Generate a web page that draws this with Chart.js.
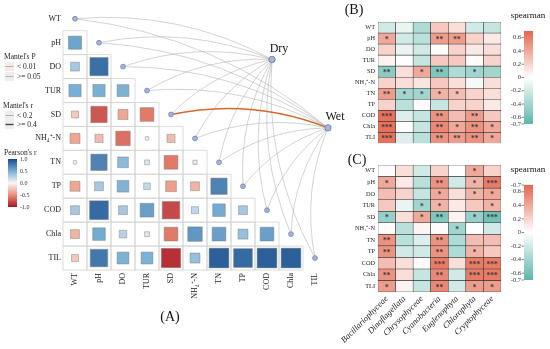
<!DOCTYPE html>
<html>
<head>
<meta charset="utf-8">
<script src="https://cdn.jsdelivr.net/npm/chart.js@4.4.1/dist/chart.umd.min.js"></script>
<style>
  body { margin: 0; background: #fff; }
  #wrap { position: relative; width: 550px; height: 349px; overflow: hidden; }
  canvas { position: absolute; }
  #chartA { left: 0; top: 0; width: 345px; height: 349px; }
  #chartB { left: 330px; top: 0; width: 220px; height: 150px; }
  #chartC { left: 330px; top: 150px; width: 220px; height: 199px; }
</style>
</head>
<body>
<div id="wrap">
  <canvas id="chartA" width="345" height="349"></canvas>
  <canvas id="chartB" width="220" height="150"></canvas>
  <canvas id="chartC" width="220" height="199"></canvas>
</div>
<script>
// ---- data ----
var vars = ['WT', 'pH', 'DO', 'TUR', 'SD', 'NH₄⁺-N', 'TN', 'TP', 'COD', 'Chla', 'TIL'];
// lower triangle of Pearson's r, row i has columns 0..i-1
var pearsonR = [
    [],
    [0.55],
    [0.32, 0.82],
    [0.5, 0.5, 0.48],
    [-0.22, -0.72, -0.38, -0.58],
    [-0.38, -0.28, -0.62, 0.03, -0.28],
    [0.03, 0.72, 0.42, 0.1, -0.58, 0.07],
    [-0.38, 0.32, 0.47, 0.2, -0.42, -0.32, 0.72],
    [0.32, 0.85, 0.32, 0.58, -0.78, 0.22, 0.52, 0.32],
    [-0.32, 0.52, 0.25, 0.1, -0.58, 0.62, 0.58, 0.38, 0.58],
    [-0.22, 0.78, 0.48, 0.48, -0.88, 0.38, 0.9, 0.85, 0.9, 0.9]
];
var envNames = ['Dry', 'Wet'];
var envX = [8.21, 10.54];
var envY = [1.70, 4.56];
var mantelPDry = [0.42, 0.35, 0.61, 0.28, 0.19, 0.55, 0.47, 0.73, 0.33, 0.26, 0.39];
var mantelRDry = [0.05, 0.08, 0.02, 0.10, 0.12, 0.04, 0.06, 0.01, 0.09, 0.11, 0.07];
var mantelPWet = [0.51, 0.22, 0.37, 0.64, 0.004, 0.29, 0.18, 0.45, 0.31, 0.58, 0.24];
var mantelRWet = [0.03, 0.11, 0.07, 0.02, 0.46, 0.08, 0.13, 0.05, 0.09, 0.01, 0.12];

var taxa = ['Bacillariophyceae', 'Dinoflagellata', 'Chrysophyceae', 'Cyanobacteria', 'Euglenophyta', 'Chlorophyta', 'Cryptophyceae'];
var rowsBC = ['WT', 'pH', 'DO', 'TUR', 'SD', 'NH₄⁺-N', 'TN', 'TP', 'COD', 'Chla', 'TLI'];
var bRho = [
    [-0.2, -0.1, -0.35, 0.25, 0.15, -0.2, -0.25],
    [0.4, -0.2, -0.3, 0.45, 0.45, 0.2, 0.1],
    [0.2, -0.1, -0.2, 0.02, 0.2, 0.1, 0.15],
    [0.05, 0, -0.25, 0.25, 0.25, 0.02, 0.2],
    [-0.5, 0.15, 0.4, -0.55, -0.35, -0.4, -0.4],
    [0.2, 0.15, 0.12, 0.25, 0.15, -0.05, 0.15],
    [0.45, -0.4, -0.4, 0.35, 0.3, 0.2, 0.15],
    [0.2, -0.3, 0.02, -0.25, 0.2, 0.2, 0.1],
    [0.65, -0.15, -0.25, 0.5, 0.3, 0.45, 0.25],
    [0.65, 0, -0.25, 0.55, 0.4, 0.5, 0.4],
    [0.65, -0.15, -0.3, 0.5, 0.45, 0.5, 0.4]
];
var bStars = [
    [0, 0, 0, 0, 0, 0, 0],
    [1, 0, 0, 2, 2, 0, 0],
    [0, 0, 0, 0, 0, 0, 0],
    [0, 0, 0, 0, 0, 0, 0],
    [2, 0, 1, 2, 0, 1, 0],
    [0, 0, 0, 0, 0, 0, 0],
    [2, 1, 1, 1, 1, 0, 0],
    [0, 0, 0, 0, 0, 0, 0],
    [3, 0, 0, 2, 0, 2, 0],
    [3, 0, 0, 2, 1, 2, 1],
    [3, 0, 0, 2, 2, 2, 1]
];
var cRho = [
    [0.02, 0.15, -0.2, 0.2, 0, 0.4, 0.2],
    [0.4, 0.1, -0.3, 0.5, -0.2, 0.35, 0.6],
    [0.3, 0.2, -0.25, 0.4, 0.15, 0.35, 0.4],
    [0.25, -0.1, -0.4, 0.35, 0.1, 0.25, 0.35],
    [-0.45, 0.15, 0.4, -0.55, 0.05, -0.45, -0.6],
    [0.02, -0.3, 0.05, 0.02, -0.4, 0, -0.2],
    [0.5, -0.3, -0.15, 0.5, -0.35, 0.3, 0.3],
    [0.5, -0.2, -0.2, 0.5, -0.35, 0.35, 0.25],
    [0.3, 0.15, 0.02, 0.6, 0.15, 0.6, 0.6],
    [0.5, 0.15, -0.25, 0.55, -0.2, 0.6, 0.6],
    [0.45, 0.05, -0.25, 0.55, -0.2, 0.45, 0.45]
];
var cStars = [
    [0, 0, 0, 0, 0, 1, 0],
    [1, 0, 0, 2, 0, 1, 3],
    [0, 0, 0, 1, 0, 1, 1],
    [0, 0, 1, 1, 0, 0, 1],
    [1, 0, 1, 2, 0, 1, 3],
    [0, 0, 0, 0, 1, 0, 0],
    [2, 0, 0, 2, 0, 0, 0],
    [2, 0, 0, 2, 0, 1, 0],
    [0, 0, 0, 3, 0, 3, 3],
    [2, 0, 0, 2, 0, 3, 3],
    [1, 0, 0, 2, 0, 1, 1]
];
var pearsonTicks = [1.0, 0.5, 0.0, -0.5, -1.0];
var bBarTicks = [0.6, 0.4, 0.2, 0, -0.2, -0.4, -0.6, -0.7];
var bBarLabels = ['0.6', '0.4', '0.2', '0', '-0.2', '-0.4', '-0.6', '-0.7'];
var cBarTicks = [0.7, 0.6, 0.4, 0.2, 0, -0.2, -0.4, -0.6, -0.7];
var cBarLabels = ['-0.7', '0.6', '0.4', '0.2', '0', '-0.2', '-0.4', '-0.6', '-0.7'];

var SERIF = '"Liberation Serif", "Times New Roman", serif';

// ---- colours ----
var pearsonStops = [
    [-1, [165, 20, 35]], [-0.5, [236, 142, 118]], [0, [247, 247, 247]],
    [0.5, [120, 175, 212]], [1, [24, 76, 140]]
];
function pearsonColor(v) {
    for (var k = 1; k < pearsonStops.length; k++) {
        if (v <= pearsonStops[k][0] || k === pearsonStops.length - 1) {
            var a = pearsonStops[k - 1], b = pearsonStops[k];
            var t = (v - a[0]) / (b[0] - a[0]);
            return 'rgb(' + a[1].map(function (c, n) { return Math.round(c + (b[1][n] - c) * t); }).join(',') + ')';
        }
    }
}
function spearmanColor(v) {
    var t = Math.min(Math.abs(v) / 0.7, 1);
    var end = v >= 0 ? [229, 102, 78] : [92, 182, 170];
    return 'rgb(' + end.map(function (c) { return Math.round(255 + (c - 255) * t); }).join(',') + ')';
}

// ---- chart A ----
var cells = [];
pearsonR.forEach(function (row, i) {
    row.forEach(function (r, j) { cells.push({ x: j, y: i, v: r }); });
});
var nodes = vars.map(function (v, i) { return { x: i, y: i }; });
var envNodes = envNames.map(function (n, e) { return { x: envX[e], y: envY[e] }; });

function cellWidth(chart) {
    var s = chart.scales.x;
    return Math.abs(s.getPixelForValue(1) - s.getPixelForValue(0));
}

var linkPlugin = {
    id: 'links',
    beforeDatasetsDraw: function (chart) {
        var xs = chart.scales.x, ys = chart.scales.y, ctx = chart.ctx;
        var ps = [mantelPDry, mantelPWet], rs = [mantelRDry, mantelRWet];
        var curv = 0.15;
        ctx.save();
        envNames.forEach(function (env, e) {
            var ex = xs.getPixelForValue(envX[e]), ey = ys.getPixelForValue(envY[e]);
            vars.forEach(function (v, i) {
                var vx = xs.getPixelForValue(i), vy = ys.getPixelForValue(i);
                var dx = ex - vx, dy = ey - vy;
                var cx = (vx + ex) / 2 + curv * dy, cy = (vy + ey) / 2 - curv * dx;
                ctx.beginPath();
                ctx.moveTo(vx, vy);
                ctx.quadraticCurveTo(cx, cy, ex, ey);
                ctx.strokeStyle = ps[e][i] < 0.01 ? '#d46a2e' : 'rgba(180,180,180,0.85)';
                ctx.lineWidth = rs[e][i] >= 0.4 ? 1.6 : 0.7;
                ctx.stroke();
            });
        });
        ctx.restore();
    },
    afterDraw: function (chart) {
        var ctx = chart.ctx, xs = chart.scales.x, ys = chart.scales.y;
        ctx.save();
        ctx.fillStyle = '#111';
        ctx.textAlign = 'center';
        ctx.textBaseline = 'middle';
        ctx.font = '12px ' + SERIF;
        envNames.forEach(function (env, e) {
            ctx.fillText(env, xs.getPixelForValue(envX[e]) + 7, ys.getPixelForValue(envY[e]) - 11);
        });
        ctx.font = '14px ' + SERIF;
        ctx.fillText('(A)', 170, 317);

        // legends
        ctx.textAlign = 'left';
        ctx.font = '7.5px ' + SERIF;
        ctx.fillStyle = '#222';
        ctx.fillText("Mantel's P", 4, 57);
        ctx.fillText("Mantel's r", 3, 106);
        ctx.fillText("Pearson's r", 4, 153);
        var keys = [
            [62, 'rgba(222,120,90,0.8)', 0.8, '< 0.01'],
            [72, 'rgba(160,160,160,0.9)', 0.8, '>= 0.05'],
            [111, 'rgba(120,120,120,0.9)', 0.6, '< 0.2'],
            [120, 'rgba(70,70,70,1)', 1.4, '>= 0.4']
        ];
        keys.forEach(function (k) {
            ctx.fillStyle = '#eeeeee';
            ctx.fillRect(5, k[0], 9, 9);
            ctx.beginPath();
            ctx.moveTo(5.5, k[0] + 4.5);
            ctx.lineTo(13.5, k[0] + 4.5);
            ctx.strokeStyle = k[1];
            ctx.lineWidth = k[2];
            ctx.stroke();
            ctx.fillStyle = '#222';
            ctx.fillText(k[3], 17, k[0] + 5);
        });
        // pearson colour bar
        var top = 159, bot = 207;
        var grad = ctx.createLinearGradient(0, top, 0, bot);
        pearsonStops.forEach(function (s) {
            grad.addColorStop((1 - s[0]) / 2, 'rgb(' + s[1].join(',') + ')');
        });
        ctx.fillStyle = grad;
        ctx.fillRect(8, top, 9, bot - top);
        ctx.font = '6px ' + SERIF;
        ctx.fillStyle = '#333';
        pearsonTicks.forEach(function (t) {
            var y = top + (1 - t) / 2 * (bot - top);
            ctx.fillText(t.toFixed(1), 20, y);
        });
        ctx.restore();
    }
};

new Chart(document.getElementById('chartA'), {
    type: 'scatter',
    data: {
        datasets: [
            {
                label: 'env',
                data: envNodes,
                order: 0,
                clip: false,
                pointStyle: 'circle',
                pointRadius: 3.2,
                backgroundColor: '#aab4d8',
                borderColor: '#6d7db2',
                borderWidth: 0.9
            },
            {
                label: 'nodes',
                data: nodes,
                order: 1,
                clip: false,
                pointStyle: 'circle',
                pointRadius: 2.4,
                backgroundColor: '#aab4d8',
                borderColor: '#6d7db2',
                borderWidth: 0.8
            },
            {
                label: 'pearson',
                data: cells,
                order: 2,
                clip: false,
                pointStyle: 'rect',
                pointRadius: function (c) {
                    var side = cellWidth(c.chart) * (0.12 + 0.78 * Math.abs(c.raw.v));
                    return side / (2 * Math.SQRT1_2);
                },
                backgroundColor: function (c) { return pearsonColor(c.raw.v); },
                borderColor: 'rgba(120,120,120,0.75)',
                borderWidth: 0.6
            },
            {
                label: 'cells',
                data: cells,
                order: 3,
                clip: false,
                pointStyle: 'rect',
                pointRadius: function (c) { return cellWidth(c.chart) / (2 * Math.SQRT1_2); },
                backgroundColor: 'rgba(0,0,0,0)',
                borderColor: '#d3d3d3',
                borderWidth: 0.8
            }
        ]
    },
    options: {
        responsive: false,
        animation: false,
        events: [],
        layout: { padding: { top: 5, right: 18, left: 0, bottom: 0 } },
        plugins: { legend: { display: false }, tooltip: { enabled: false } },
        scales: {
            x: {
                type: 'linear', min: -0.5, max: 10.5,
                grid: { display: false, drawTicks: false },
                border: { display: false },
                afterBuildTicks: function (s) { s.ticks = vars.map(function (v, i) { return { value: i }; }); },
                afterFit: function (s) { s.height = 79; },
                ticks: {
                    autoSkip: false, minRotation: 90, maxRotation: 90, padding: 3,
                    font: { family: SERIF, size: 8 }, color: '#222',
                    callback: function (v) { return vars[Math.round(v)]; }
                }
            },
            y: {
                type: 'linear', reverse: true, min: -0.5, max: 10.5,
                grid: { display: false, drawTicks: false },
                border: { display: false },
                afterBuildTicks: function (s) { s.ticks = vars.map(function (v, i) { return { value: i }; }); },
                afterFit: function (s) { s.width = 63; },
                ticks: {
                    autoSkip: false, padding: 2,
                    font: { family: SERIF, size: 8 }, color: '#222',
                    callback: function (v) { return vars[Math.round(v)]; }
                }
            }
        }
    },
    plugins: [linkPlugin]
});

// ---- heatmaps B and C ----
function heatPlugin(rho, stars, tag, tagPos, barTop, barBot, ticks, labels) {
    return {
        id: 'heat' + tag,
        afterDatasetsDraw: function (chart) {
            var xs = chart.scales.x, ys = chart.scales.y, ctx = chart.ctx;
            ctx.save();
            ctx.fillStyle = '#3a3a3a';
            ctx.textAlign = 'center';
            ctx.textBaseline = 'middle';
            ctx.font = 'bold 7.5px ' + SERIF;
            stars.forEach(function (row, i) {
                row.forEach(function (n, j) {
                    if (n > 0) {
                        ctx.fillText('*'.repeat(n), xs.getPixelForValue(j), ys.getPixelForValue(i + 0.5) + 1.5);
                    }
                });
            });
            ctx.restore();
        },
        afterDraw: function (chart) {
            var ctx = chart.ctx;
            ctx.save();
            ctx.fillStyle = '#111';
            ctx.textAlign = 'center';
            ctx.textBaseline = 'middle';
            ctx.font = '14px ' + SERIF;
            ctx.fillText(tag, tagPos[0], tagPos[1]);
            ctx.font = '9px ' + SERIF;
            ctx.fillText('spearman', 198, barTop - 15);
            // colour bar
            var x0 = 194, w = 9;
            var grad = ctx.createLinearGradient(0, barTop, 0, barBot);
            grad.addColorStop(0, spearmanColor(0.7));
            grad.addColorStop(0.5, spearmanColor(0));
            grad.addColorStop(1, spearmanColor(-0.7));
            ctx.fillStyle = grad;
            ctx.fillRect(x0, barTop, w, barBot - barTop);
            ctx.font = '6.5px ' + SERIF;
            ctx.textAlign = 'right';
            ctx.fillStyle = '#333';
            ctx.strokeStyle = '#333';
            ctx.lineWidth = 0.6;
            ticks.forEach(function (t, k) {
                var y = barTop + (0.7 - t) / 1.4 * (barBot - barTop);
                ctx.fillText(labels[k], x0 - 3, y);
                ctx.beginPath();
                ctx.moveTo(x0 - 2.5, y);
                ctx.lineTo(x0, y);
                ctx.stroke();
            });
            ctx.restore();
        }
    };
}

function heatConfig(rho, showX, padTop, padBottom, plugin) {
    return {
        type: 'bar',
        data: {
            labels: taxa,
            datasets: rowsBC.map(function (name, i) {
                return {
                    label: name,
                    data: taxa.map(function () { return 1; }),
                    backgroundColor: rho[i].map(spearmanColor),
                    borderColor: '#2b2b2b',
                    borderWidth: 0.55,
                    borderSkipped: false,
                    barPercentage: 1,
                    categoryPercentage: 1
                };
            })
        },
        options: {
            responsive: false,
            animation: false,
            events: [],
            layout: { padding: { top: padTop, right: 49, left: 0, bottom: padBottom } },
            plugins: { legend: { display: false }, tooltip: { enabled: false } },
            scales: {
                x: {
                    stacked: true,
                    display: showX,
                    grid: { display: false, drawTicks: false },
                    border: { display: false },
                    afterFit: function (s) { s.height = showX ? 57 : 0; },
                    ticks: {
                        autoSkip: false, minRotation: 45, maxRotation: 45, padding: 2,
                        font: { family: SERIF, size: 8.5, style: 'italic' }, color: '#222'
                    }
                },
                y: {
                    stacked: true, min: 0, max: 11, reverse: true,
                    grid: { display: false, drawTicks: false },
                    border: { display: false },
                    afterBuildTicks: function (s) { s.ticks = rowsBC.map(function (r, i) { return { value: i + 0.5 }; }); },
                    afterFit: function (s) { s.width = 48; },
                    ticks: {
                        autoSkip: false, padding: 3,
                        font: { family: SERIF, size: 6.3 }, color: '#222',
                        callback: function (v) { return rowsBC[Math.floor(v)]; }
                    }
                }
            }
        },
        plugins: [plugin]
    };
}

new Chart(document.getElementById('chartB'),
    heatConfig(bRho, false, 22, 6, heatPlugin(bRho, bStars, '(B)', [24, 10], 31, 124, bBarTicks, bBarLabels)));
new Chart(document.getElementById('chartC'),
    heatConfig(cRho, true, 15, 0, heatPlugin(cRho, cStars, '(C)', [27, 10], 35, 130, cBarTicks, cBarLabels)));
</script>
</body>
</html>
